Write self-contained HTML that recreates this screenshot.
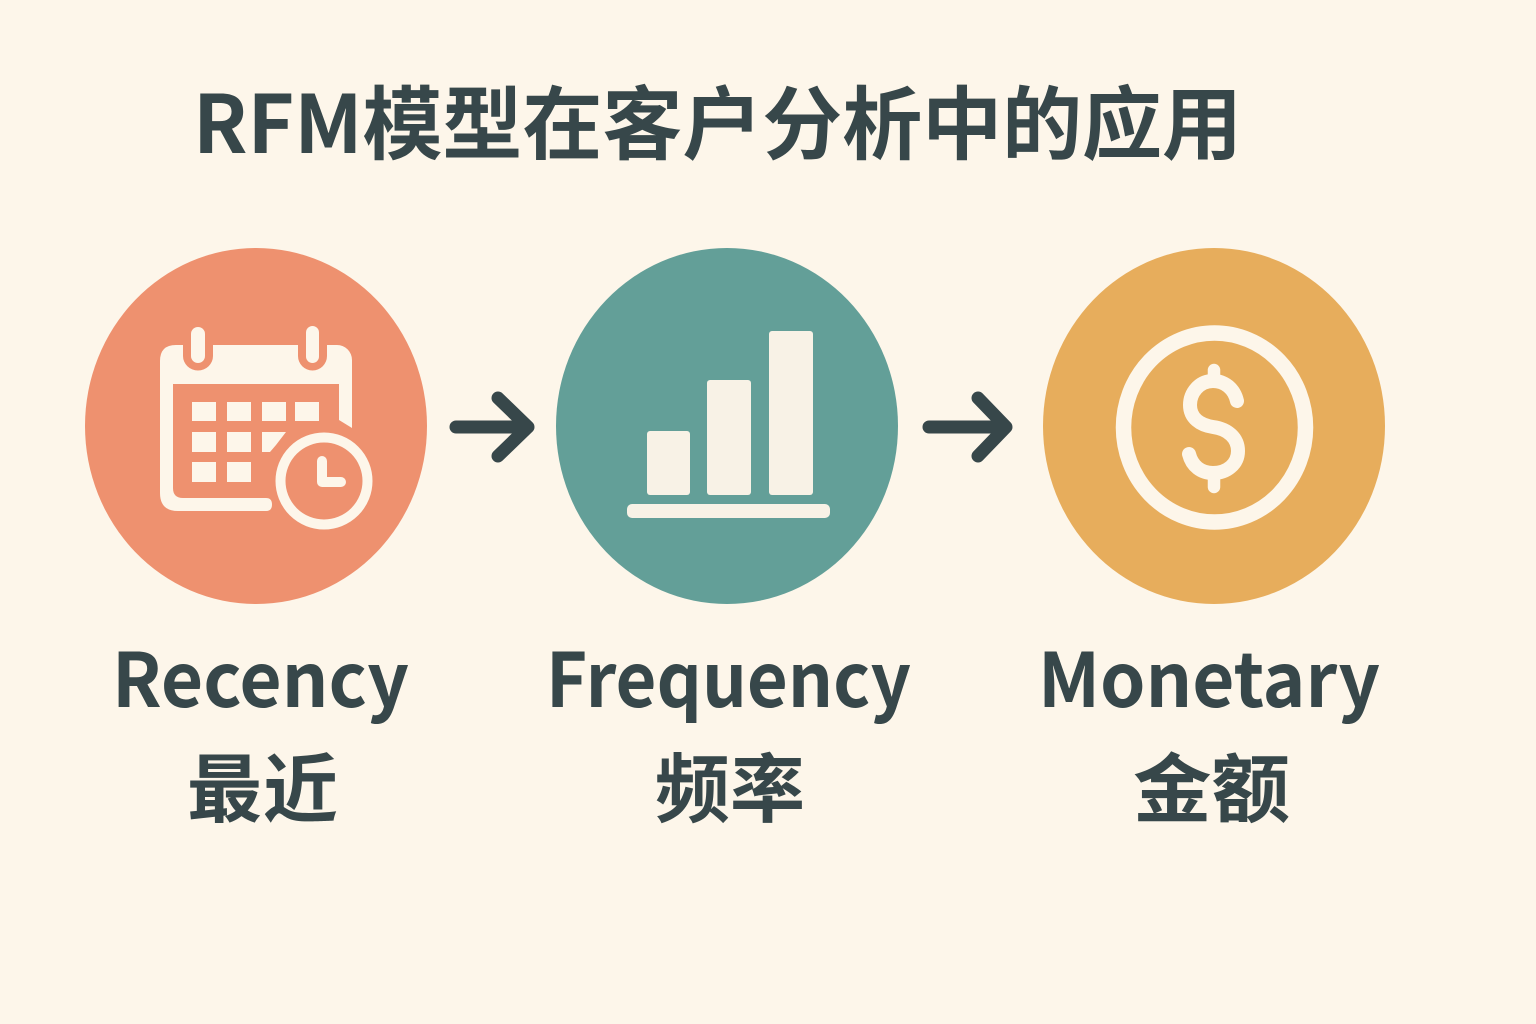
<!DOCTYPE html>
<html lang="zh"><head><meta charset="utf-8"><title>RFM模型在客户分析中的应用</title>
<style>html,body{margin:0;padding:0;background:#fdf6ea}svg{display:block}
text{font-family:"Noto Sans CJK SC","Liberation Sans",sans-serif;font-weight:700;fill:#37474a}</style></head>
<body>
<svg width="1536" height="1024" viewBox="0 0 1536 1024" xmlns="http://www.w3.org/2000/svg">
<rect width="1536" height="1024" fill="#fdf6ea"/>
<text x="193" y="153" font-size="80" textLength="1049" lengthAdjust="spacing">RFM模型在客户分析中的应用</text>

<ellipse cx="256" cy="426" rx="171" ry="178" fill="#ee916f"/>
<ellipse cx="727" cy="426" rx="171" ry="178" fill="#639f98"/>
<ellipse cx="1214" cy="426" rx="171" ry="178" fill="#e7ad5c"/>

<!-- calendar -->
<g fill="#fdf6ea">
<path d="M176 345H183V356A15 14.500 0 0 0 213 356V345H298V356A14.500 14.500 0 0 0 327 356V345H337A15 15 0 0 1 352 360V428L339 420V384H173V488Q173 498 183 498H266Q272 498 272 504.500Q272 511 266 511H178Q160 511 160 493V361Q160 345 176 345Z"/>
<rect x="191" y="327" width="14" height="36" rx="7"/>
<rect x="306" y="326" width="13" height="37" rx="6.500"/>
<rect x="192" y="402" width="24" height="19"/><rect x="227" y="402" width="24" height="19"/><rect x="262" y="402" width="24" height="19"/><rect x="295" y="402" width="24" height="19"/>
<rect x="192" y="432" width="24" height="20"/><rect x="227" y="432" width="24" height="20"/>
<path d="M262 432H286L276 445L270 452H262Z"/>
<rect x="192" y="462" width="24" height="20"/><rect x="227" y="462" width="24" height="20"/>
</g>
<circle cx="324" cy="481" r="43.500" fill="#ee916f" stroke="#fdf6ea" stroke-width="10"/>
<path d="M322 461V482H341" fill="none" stroke="#fdf6ea" stroke-width="10" stroke-linecap="round" stroke-linejoin="round"/>

<!-- arrows -->
<g fill="none" stroke="#37474a" stroke-width="13" stroke-linecap="round" stroke-linejoin="round">
<path d="M456 427H526M498 398L528 427L498 456"/>
<path d="M929 427H1003M978 398L1006 427L978 456"/>
</g>

<!-- bars -->
<g fill="#f8f2e6">
<rect x="647" y="431" width="43" height="64" rx="3"/>
<rect x="707" y="380" width="44" height="115" rx="3"/>
<rect x="769" y="331" width="44" height="164" rx="3"/>
<rect x="627" y="504" width="203" height="14" rx="5"/>
</g>

<!-- coin -->
<ellipse cx="1214.500" cy="427.500" rx="91" ry="94.500" fill="none" stroke="#fdf6ea" stroke-width="15.500"/>
<path d="M1237 401C1234 388 1224 381 1213 381C1199 381 1190 393 1190 405C1190 418 1200 425 1213 427C1228 429 1238 438 1238 451C1238 464 1227 473 1213 473C1201 473 1192 466 1189 454" fill="none" stroke="#fdf6ea" stroke-width="14" stroke-linecap="round"/>
<path d="M1214 370V381M1214 473V487" fill="none" stroke="#fdf6ea" stroke-width="12.500" stroke-linecap="round"/>

<!-- labels -->
<text x="112" y="707" font-size="75" textLength="297" lengthAdjust="spacingAndGlyphs">Recency</text>
<text x="546" y="707" font-size="75" textLength="365" lengthAdjust="spacingAndGlyphs">Frequency</text>
<text x="1038" y="707" font-size="75" textLength="342" lengthAdjust="spacingAndGlyphs">Monetary</text>
<text x="187" y="816" font-size="75" textLength="151" lengthAdjust="spacing">最近</text>
<text x="655" y="816" font-size="75" textLength="150" lengthAdjust="spacing">频率</text>
<text x="1133" y="816" font-size="75" textLength="157" lengthAdjust="spacingAndGlyphs">金额</text>
</svg>
</body></html>
